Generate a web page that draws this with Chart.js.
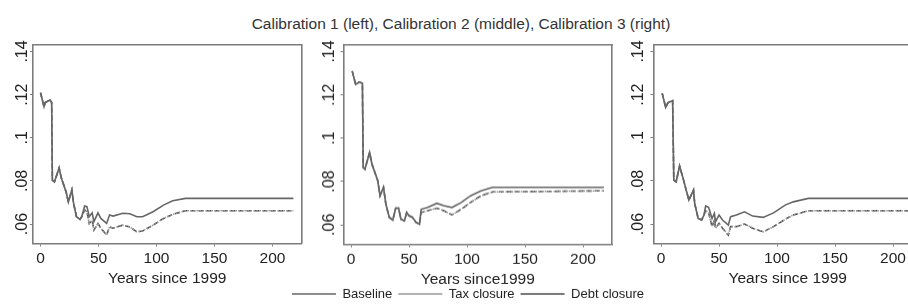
<!DOCTYPE html>
<html>
<head>
<meta charset="utf-8">
<script src="https://cdn.jsdelivr.net/npm/chart.js@4.4.1/dist/chart.umd.min.js"></script>
<style>
  html, body { margin: 0; padding: 0; background: #fff; width: 908px; height: 306px; overflow: hidden; }
  #title { position: absolute; left: 0; top: 15px; width: 922px; height: 18px; line-height: 18px;
           text-align: center; font: 15.5px "Liberation Sans", Arial, sans-serif; color: #333; }
  .panel { position: absolute; }
</style>
</head>
<body>
<div id="title">Calibration 1 (left), Calibration 2 (middle), Calibration 3 (right)</div>
<div class="panel" style="left:0px;top:30px;width:320px;height:260px"><canvas id="c1"></canvas></div>
<div class="panel" style="left:600px;top:30px;width:330px;height:260px"><canvas id="c3"></canvas></div>
<div class="panel" style="left:250px;top:30px;width:436px;height:279.5px"><canvas id="c2"></canvas></div>
<script>
const seriesNames = ['Baseline', 'Tax closure', 'Debt closure'];
const xTicks = [0, 50, 100, 150, 200];
const yTicks = [0.06, 0.08, 0.10, 0.12, 0.14];
const xTitles = ['Years since 1999', 'Years since1999', 'Years since 1999'];

// calibration 1 (left)
const cal1Years = [0, 3, 4, 8, 9.6, 10.2, 12, 16, 18, 22, 24, 27, 28.5, 31, 34, 35.5, 38, 40, 42, 44.5,
  46, 49.5, 52, 57, 59.5, 62.5, 71, 77, 83, 88, 97, 106, 114, 125, 218];
const cal1Baseline = [0.1209, 0.1144, 0.1163, 0.1175, 0.1163, 0.0804, 0.0796, 0.0860, 0.0812, 0.0750,
  0.0703, 0.0758, 0.0696, 0.0634, 0.0622, 0.0634, 0.0684, 0.0681, 0.0634, 0.0652,
  0.0611, 0.0652, 0.0626, 0.0603, 0.0642, 0.0637, 0.0650, 0.0648, 0.0634, 0.0634,
  0.0657, 0.0688, 0.0708, 0.0719, 0.0719];
const cal1Tax = [0.1209, 0.1144, 0.1163, 0.1175, 0.1163, 0.0804, 0.0796, 0.0860, 0.0812, 0.0750,
  0.0703, 0.0758, 0.0696, 0.0634, 0.0622, 0.0634, 0.0665, 0.0657, 0.0603, 0.0618,
  0.0572, 0.0603, 0.0581, 0.0549, 0.0587, 0.0581, 0.0595, 0.0587, 0.0564, 0.0568,
  0.0595, 0.0626, 0.0645, 0.0662, 0.0662];
const cal1Debt = [0.1209, 0.1144, 0.1163, 0.1175, 0.1163, 0.0804, 0.0796, 0.0860, 0.0812, 0.0750,
  0.0703, 0.0758, 0.0696, 0.0634, 0.0622, 0.0634, 0.0665, 0.0657, 0.0603, 0.0618,
  0.0572, 0.0603, 0.0581, 0.0549, 0.0587, 0.0581, 0.0595, 0.0587, 0.0564, 0.0568,
  0.0595, 0.0626, 0.0645, 0.0662, 0.0662];

// calibration 2 (middle)
const cal2Years = [1, 4, 7, 9.8, 10.5, 12, 16, 18, 23, 25, 28, 30, 33, 36, 38.5, 41, 43, 46, 48, 50,
  53, 56, 59, 60.5, 66, 74, 80, 87, 95, 103, 112, 122, 218];
const cal2Baseline = [0.1310, 0.1248, 0.1259, 0.1254, 0.0865, 0.0857, 0.0934, 0.0881, 0.0804, 0.0734,
  0.0773, 0.0696, 0.0634, 0.0622, 0.0677, 0.0677, 0.0626, 0.0618, 0.0657, 0.0642,
  0.0634, 0.0611, 0.0603, 0.0672, 0.0680, 0.0699, 0.0688, 0.0680, 0.0703, 0.0734,
  0.0757, 0.0773, 0.0773];
const cal2Tax = [0.1310, 0.1248, 0.1259, 0.1254, 0.0865, 0.0857, 0.0934, 0.0881, 0.0804, 0.0734,
  0.0773, 0.0696, 0.0634, 0.0622, 0.0677, 0.0677, 0.0626, 0.0618, 0.0657, 0.0642,
  0.0634, 0.0611, 0.0603, 0.0657, 0.0665, 0.0677, 0.0665, 0.0646, 0.0672, 0.0703,
  0.0734, 0.0752, 0.0757];
const cal2Debt = [0.1310, 0.1248, 0.1259, 0.1254, 0.0865, 0.0857, 0.0934, 0.0881, 0.0804, 0.0734,
  0.0773, 0.0696, 0.0634, 0.0622, 0.0677, 0.0677, 0.0626, 0.0618, 0.0657, 0.0642,
  0.0634, 0.0611, 0.0603, 0.0657, 0.0665, 0.0677, 0.0665, 0.0646, 0.0672, 0.0703,
  0.0734, 0.0752, 0.0757];

// calibration 3 (right)
const cal3Years = [1, 4, 6, 10, 11, 13, 16, 19, 24, 28, 29, 32, 35, 37, 38.5, 41, 44, 46, 47, 50,
  53, 58, 60, 65, 72, 79, 88, 97, 107, 114, 127, 218];
const cal3Baseline = [0.1206, 0.1141, 0.1163, 0.1172, 0.0804, 0.0796, 0.0869, 0.0812, 0.0711, 0.0758,
  0.0696, 0.0626, 0.0619, 0.0642, 0.0684, 0.0678, 0.0626, 0.0650, 0.0611, 0.0642,
  0.0619, 0.0595, 0.0634, 0.0642, 0.0657, 0.0637, 0.0631, 0.0652, 0.0688, 0.0703,
  0.0719, 0.0719];
const cal3Tax = [0.1206, 0.1141, 0.1163, 0.1172, 0.0804, 0.0796, 0.0869, 0.0812, 0.0711, 0.0758,
  0.0696, 0.0626, 0.0619, 0.0642, 0.0662, 0.0652, 0.0588, 0.0619, 0.0581, 0.0603,
  0.0581, 0.0549, 0.0588, 0.0588, 0.0600, 0.0581, 0.0564, 0.0588, 0.0622, 0.0642,
  0.0662, 0.0662];
const cal3Debt = [0.1206, 0.1141, 0.1163, 0.1172, 0.0804, 0.0796, 0.0869, 0.0812, 0.0711, 0.0758,
  0.0696, 0.0626, 0.0619, 0.0642, 0.0662, 0.0652, 0.0588, 0.0619, 0.0581, 0.0603,
  0.0581, 0.0549, 0.0588, 0.0588, 0.0600, 0.0581, 0.0564, 0.0588, 0.0622, 0.0642,
  0.0662, 0.0662];

const boxColor = '#7c7c7c';
const font = '"Liberation Sans", Arial, sans-serif';

function pts(xs, ys) {
  return xs.map((x, i) => ({ x: x, y: ys[i] }));
}

function makePanel(id, years, base, tax, debt, xTitle, lay) {
  new Chart(document.getElementById(id), {
    type: 'line',
    data: {
      datasets: [
        { label: seriesNames[0], data: pts(years, base), borderColor: '#666666', borderWidth: 1.6 },
        { label: seriesNames[1], data: pts(years, tax), borderColor: '#9a9a9a', borderWidth: 1.6, borderDash: [1.5, 1.5] },
        { label: seriesNames[2], data: pts(years, debt), borderColor: '#505050', borderWidth: 1.6, borderDash: [5, 3] }
      ]
    },
    options: {
      responsive: true,
      maintainAspectRatio: false,
      animation: false,
      devicePixelRatio: 1,
      elements: { point: { radius: 0 }, line: { tension: 0 } },
      plugins: {
        tooltip: { enabled: false },
        legend: {
          display: lay.legend,
          position: 'bottom',
          labels: {
            usePointStyle: true, pointStyle: 'line', pointStyleWidth: 44,
            padding: 6, color: '#222', font: { family: font, size: 13 }
          }
        }
      },
      scales: {
        x: {
          type: 'linear', position: 'bottom', min: -6.5, max: 225,
          afterBuildTicks: s => { s.ticks = xTicks.map(v => ({ value: v })); },
          afterFit: s => { s.height = lay.bottomH; },
          grid: { display: true, drawOnChartArea: false, tickLength: 3, color: boxColor },
          border: { display: true, color: boxColor, width: 1.6 },
          ticks: { color: '#222', padding: 3, font: { family: font, size: 15.5 }, maxRotation: 0 },
          title: { display: true, text: xTitle, color: '#222', font: { family: font, size: 15.5 },
                   padding: { top: 0, bottom: lay.titlePad } }
        },
        y: {
          type: 'linear', position: 'left', min: 0.051, max: 0.143,
          afterBuildTicks: s => { s.ticks = yTicks.map(v => ({ value: v })); },
          afterFit: s => { s.width = lay.yWidth; },
          grid: { display: true, drawOnChartArea: false, tickLength: 3, color: boxColor },
          border: { display: true, color: boxColor, width: 1.6 },
          ticks: {
            color: '#222', padding: lay.tickPad, minRotation: 90, maxRotation: 90, crossAlign: 'center',
            font: { family: font, size: 16 },
            callback: v => String(+v.toFixed(2)).replace(/^0/, '')
          }
        },
        xTop: {
          type: 'linear', position: 'top', axis: 'x',
          afterFit: s => { s.height = 15; },
          grid: { display: false }, ticks: { display: false },
          border: { display: true, color: boxColor, width: 1.6 }
        },
        yRight: {
          type: 'linear', position: 'right', axis: 'y',
          afterFit: s => { s.width = lay.rightW; },
          grid: { display: false }, ticks: { display: false },
          border: { display: true, color: boxColor, width: 1.6 }
        }
      }
    }
  });
}

makePanel('c1', cal1Years, cal1Baseline, cal1Tax, cal1Debt, xTitles[0],
  { yWidth: 33, rightW: 18.5, tickPad: -3.6, bottomH: 46.5, titlePad: 2, legend: false });
makePanel('c3', cal3Years, cal3Baseline, cal3Tax, cal3Debt, xTitles[2],
  { yWidth: 53.5, rightW: 8, tickPad: 1, bottomH: 46.5, titlePad: 2, legend: false });
makePanel('c2', cal2Years, cal2Baseline, cal2Tax, cal2Debt, xTitles[1],
  { yWidth: 93.5, rightW: 74, tickPad: 0, bottomH: 37, titlePad: -7.4, legend: true });
</script>
</body>
</html>
